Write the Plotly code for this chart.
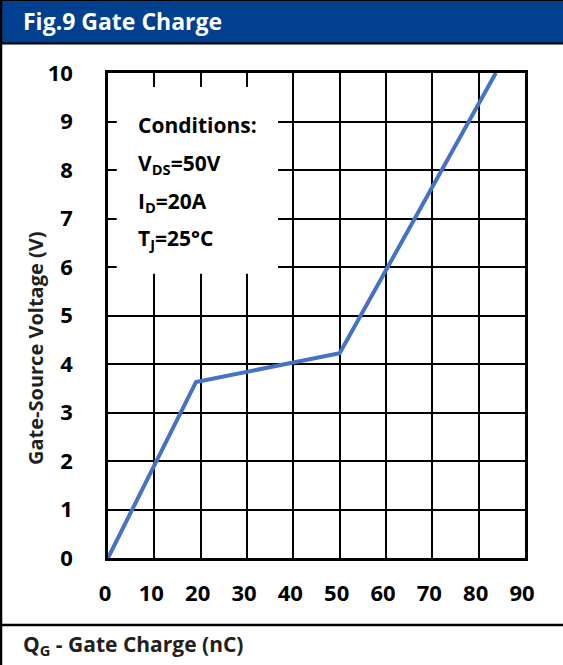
import plotly.graph_objects as go

# Data
qg_nc = [0, 19.0, 50.0, 83.7]
vgs_v = [0, 3.63, 4.22, 10.0]
x_ticks = [0, 10, 20, 30, 40, 50, 60, 70, 80, 90]
y_ticks = [0, 1, 2, 3, 4, 5, 6, 7, 8, 9, 10]
condition_lines = ["Conditions:", "V<sub>DS</sub>=50V", "I<sub>D</sub>=20A", "T<sub>J</sub>=25°C"]

W, H = 563, 665
L, R, T, B = 108, 38, 73, 107
PW, PH = W - L - R, H - T - B

def px(x):
    return (x - L) / PW

def py(y):
    return (H - B - y) / PH

FONT = "Open Sans"
HEADER_BLUE = "#01408F"
LINE_BLUE = "#4472C4"

fig = go.Figure()
fig.add_trace(go.Scatter(x=qg_nc, y=vgs_v, mode="lines",
                         line=dict(color=LINE_BLUE, width=4), showlegend=False))

fig.update_layout(
    width=W, height=H,
    margin=dict(l=L, r=R, t=T, b=B, pad=0),
    paper_bgcolor="white", plot_bgcolor="white",
    font=dict(family=FONT, color="black"),
    xaxis=dict(range=[0, 90], tickvals=x_ticks, ticktext=[str(v) for v in x_ticks],
               showgrid=True, gridcolor="black", gridwidth=2,
               showline=True, linecolor="black", linewidth=2.5, mirror=True,
               zeroline=False, ticks="", ticklabelstandoff=14, ticklabelshift=-3,
               tickfont=dict(family=FONT, size=22, color="black", weight="bold"),
               fixedrange=True),
    yaxis=dict(range=[0, 10], tickvals=y_ticks, ticktext=[str(v) for v in y_ticks],
               showgrid=True, gridcolor="black", gridwidth=2,
               showline=True, linecolor="black", linewidth=2.5, mirror=True,
               zeroline=False, ticks="", ticklabelstandoff=28,
               tickfont=dict(family=FONT, size=22, color="black", weight="bold"),
               fixedrange=True),
)

shapes = [
    # header bar
    dict(type="rect", xref="paper", yref="paper", x0=px(0), x1=px(W + 2), y0=py(43.5), y1=py(0),
         fillcolor=HEADER_BLUE, line=dict(color="black", width=2), layer="above"),
    # left frame line
    dict(type="line", xref="paper", yref="paper", x0=px(1), x1=px(1), y0=py(H), y1=py(0),
         line=dict(color="black", width=2.5), layer="above"),
    # separator line above x-axis title
    dict(type="line", xref="paper", yref="paper", x0=px(0), x1=px(W), y0=py(625), y1=py(625),
         line=dict(color="black", width=2.5), layer="above"),
    # conditions box (white, covers grid)
    dict(type="rect", xref="x", yref="y", x0=1.9, x1=36.7, y0=5.86, y1=9.71,
         fillcolor="white", line=dict(width=0), layer="above"),
]
fig.update_layout(shapes=shapes)

annotations = [
    dict(text="Fig.9 Gate Charge", x=px(21), y=py(21), xref="paper", yref="paper",
         xanchor="left", yanchor="middle", showarrow=False,
         font=dict(family=FONT, size=23, color="white", weight="bold")),
    dict(text="Gate-Source Voltage (V)", x=px(35), y=py(348), xref="paper", yref="paper",
         xanchor="center", yanchor="middle", textangle=-90, showarrow=False,
         font=dict(family=FONT, size=20, color="#231F20", weight="bold")),
    dict(text="Q<sub>G</sub> - Gate Charge (nC)", x=px(21), y=py(645), xref="paper", yref="paper",
         xanchor="left", yanchor="middle", showarrow=False,
         font=dict(family=FONT, size=21, color="#231F20", weight="bold")),
]
cond_y = [125, 164, 202, 239]
for txt, yy in zip(condition_lines, cond_y):
    annotations.append(dict(text=txt, x=px(136), y=py(yy), xref="paper", yref="paper",
                            xanchor="left", yanchor="middle", showarrow=False,
                            font=dict(family=FONT, size=21, color="black", weight="bold")))
fig.update_layout(annotations=annotations)

fig.write_html("out.html", config=dict(displayModeBar=False),
               post_script="document.body.style.margin='0';")
